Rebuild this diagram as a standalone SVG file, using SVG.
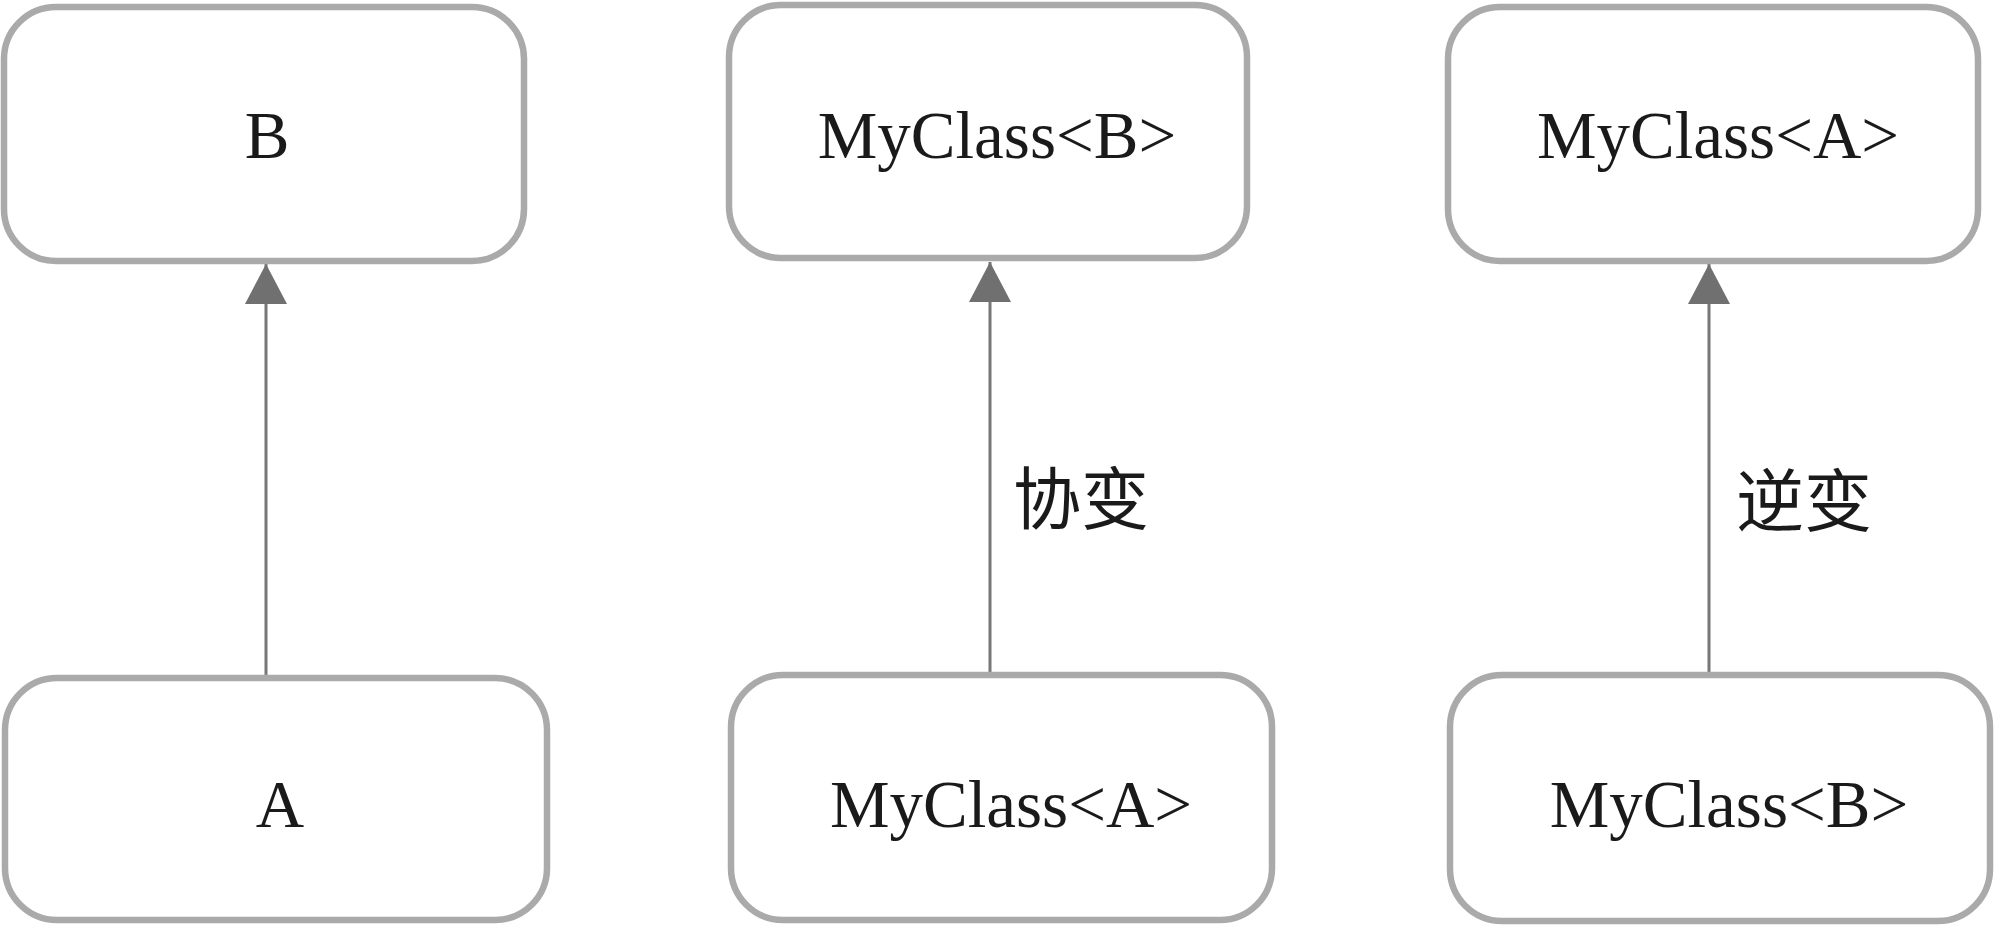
<svg xmlns="http://www.w3.org/2000/svg" width="1995" height="930" viewBox="0 0 1995 930">
  <style>
    .box { fill: #ffffff; stroke: #aaaaaa; stroke-width: 6.5; }
    .lbl { font-family: "Liberation Serif", "Times New Roman", serif; font-size: 67px; fill: #1a1a1a; text-anchor: middle; }
    .cjk { font-family: "Liberation Serif", "Noto Sans CJK SC", sans-serif; font-size: 68px; fill: #1a1a1a; }
    .edge { stroke: #777777; stroke-width: 3; fill: none; marker-end: url(#arrow); }
  </style>
  <defs>
    <marker id="arrow" viewBox="0 0 40 42" refX="40" refY="21" markerWidth="40" markerHeight="42" markerUnits="userSpaceOnUse" orient="auto">
      <path d="M0,0 L40,21 L0,42 z" fill="#707070"/>
    </marker>
  </defs>
  <rect width="1995" height="930" fill="#ffffff"/>

  <g id="connectors">
    <line class="edge" x1="266" y1="677" x2="266" y2="264"/>
    <line class="edge" x1="990" y1="674" x2="990" y2="262"/>
    <line class="edge" x1="1709" y1="674" x2="1709" y2="264"/>
    <text class="cjk" x="1013" y="524">协变</text>
    <text class="cjk" x="1736" y="526">逆变</text>
  </g>

  <g id="node-B">
    <rect class="box" x="4" y="7" width="520" height="254" rx="52" ry="52"/>
    <text class="lbl" x="267" y="158">B</text>
  </g>
  <g id="node-MyClassB-top">
    <rect class="box" x="729" y="5" width="518" height="253" rx="52" ry="52"/>
    <text class="lbl" x="997" y="158">MyClass&lt;B&gt;</text>
  </g>
  <g id="node-MyClassA-top">
    <rect class="box" x="1448" y="7" width="530" height="254" rx="52" ry="52"/>
    <text class="lbl" x="1718" y="158">MyClass&lt;A&gt;</text>
  </g>
  <g id="node-A">
    <rect class="box" x="5" y="678" width="542" height="242" rx="52" ry="52"/>
    <text class="lbl" x="280" y="827">A</text>
  </g>
  <g id="node-MyClassA-bottom">
    <rect class="box" x="731" y="675" width="541" height="245" rx="52" ry="52"/>
    <text class="lbl" x="1011" y="827">MyClass&lt;A&gt;</text>
  </g>
  <g id="node-MyClassB-bottom">
    <rect class="box" x="1450" y="675" width="540" height="246" rx="52" ry="52"/>
    <text class="lbl" x="1729" y="827">MyClass&lt;B&gt;</text>
  </g>
</svg>
